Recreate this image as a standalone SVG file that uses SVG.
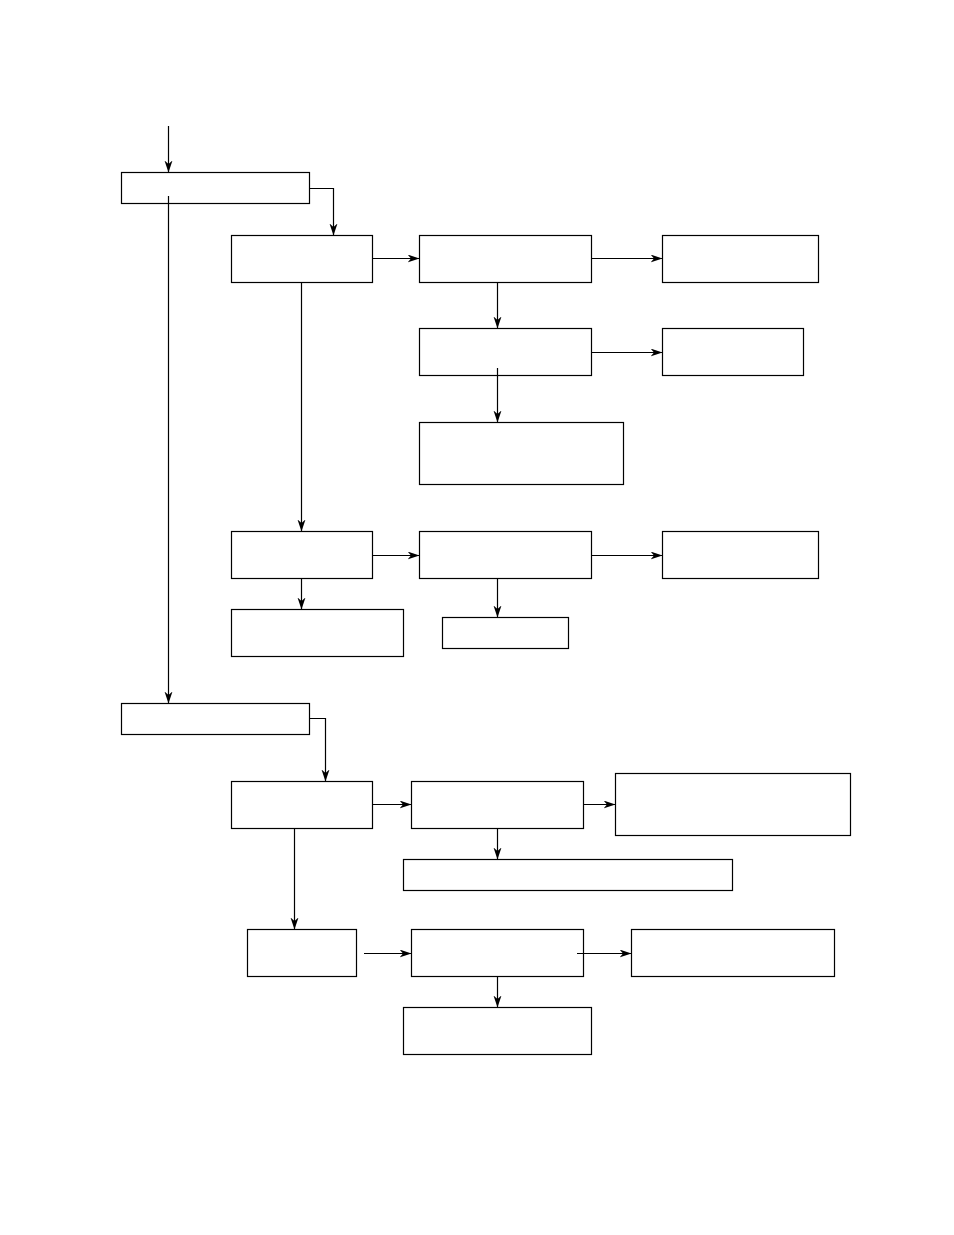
<svg xmlns="http://www.w3.org/2000/svg" width="954" height="1235" viewBox="0 0 954 1235">
<style>
.box{fill:none;stroke:#000;stroke-width:1.2}
.ln{fill:none;stroke:#000;stroke-width:1.2;marker-end:url(#ah)}
.pl{fill:none;stroke:#000;stroke-width:1.2}
</style>
<defs>
<marker id="ah" markerUnits="userSpaceOnUse" markerWidth="14" markerHeight="10" refX="12" refY="4" orient="auto">
<path d="M0,0 L12,4 L0,8 L3.5,4 Z" fill="#000"/>
</marker>
</defs>
<rect width="954" height="1235" fill="#fff"/>
<g id="nodes">
<g id="A"><rect class="box" x="121.5" y="172.5" width="188" height="31"/></g>
<g id="C"><rect class="box" x="231.5" y="235.5" width="141" height="47"/></g>
<g id="D"><rect class="box" x="419.5" y="235.5" width="172" height="47"/></g>
<g id="E"><rect class="box" x="662.5" y="235.5" width="156" height="47"/></g>
<g id="F"><rect class="box" x="419.5" y="328.5" width="172" height="47"/></g>
<g id="G"><rect class="box" x="662.5" y="328.5" width="141" height="47"/></g>
<g id="H"><rect class="box" x="419.5" y="422.5" width="204" height="62"/></g>
<g id="I"><rect class="box" x="231.5" y="531.5" width="141" height="47"/></g>
<g id="J"><rect class="box" x="419.5" y="531.5" width="172" height="47"/></g>
<g id="K"><rect class="box" x="662.5" y="531.5" width="156" height="47"/></g>
<g id="L"><rect class="box" x="231.5" y="609.5" width="172" height="47"/></g>
<g id="M"><rect class="box" x="442.5" y="617.5" width="126" height="31"/></g>
<g id="B"><rect class="box" x="121.5" y="703.5" width="188" height="31"/></g>
<g id="N"><rect class="box" x="231.5" y="781.5" width="141" height="47"/></g>
<g id="O"><rect class="box" x="411.5" y="781.5" width="172" height="47"/></g>
<g id="P"><rect class="box" x="615.5" y="773.5" width="235" height="62"/></g>
<g id="Q"><rect class="box" x="403.5" y="859.5" width="329" height="31"/></g>
<g id="R"><rect class="box" x="247.5" y="929.5" width="109" height="47"/></g>
<g id="S"><rect class="box" x="411.5" y="929.5" width="172" height="47"/></g>
<g id="T"><rect class="box" x="631.5" y="929.5" width="203" height="47"/></g>
<g id="U"><rect class="box" x="403.5" y="1007.5" width="188" height="47"/></g>
</g>
<g id="connectors">
<path class="ln" d="M168.5,126 V172.5"/>
<path class="ln" d="M168.5,196 V703.5"/>
<path class="ln" d="M309.5,188.5 H333.5 V235.5"/>
<path class="ln" d="M301.5,282.5 V531.5"/>
<path class="ln" d="M372.5,258.5 H419.5"/>
<path class="ln" d="M591.5,258.5 H662.5"/>
<path class="ln" d="M497.5,282.5 V328.5"/>
<path class="ln" d="M591.5,352.5 H662.5"/>
<path class="ln" d="M497.5,368 V422.5"/>
<path class="ln" d="M372.5,555.5 H419.5"/>
<path class="ln" d="M591.5,555.5 H662.5"/>
<path class="ln" d="M301.5,578.5 V609.5"/>
<path class="ln" d="M497.5,578.5 V617.5"/>
<path class="ln" d="M309.5,718.5 H325.5 V781.5"/>
<path class="ln" d="M372.5,804.5 H411.5"/>
<path class="ln" d="M583.5,804.5 H615.5"/>
<path class="ln" d="M294.5,828.5 V929.5"/>
<path class="ln" d="M497.5,828.5 V859.5"/>
<path class="ln" d="M364,953.5 H411.5"/>
<path class="ln" d="M577,953.5 H631.5"/>
<path class="ln" d="M497.5,976.5 V1007.5"/>
</g>
</svg>
